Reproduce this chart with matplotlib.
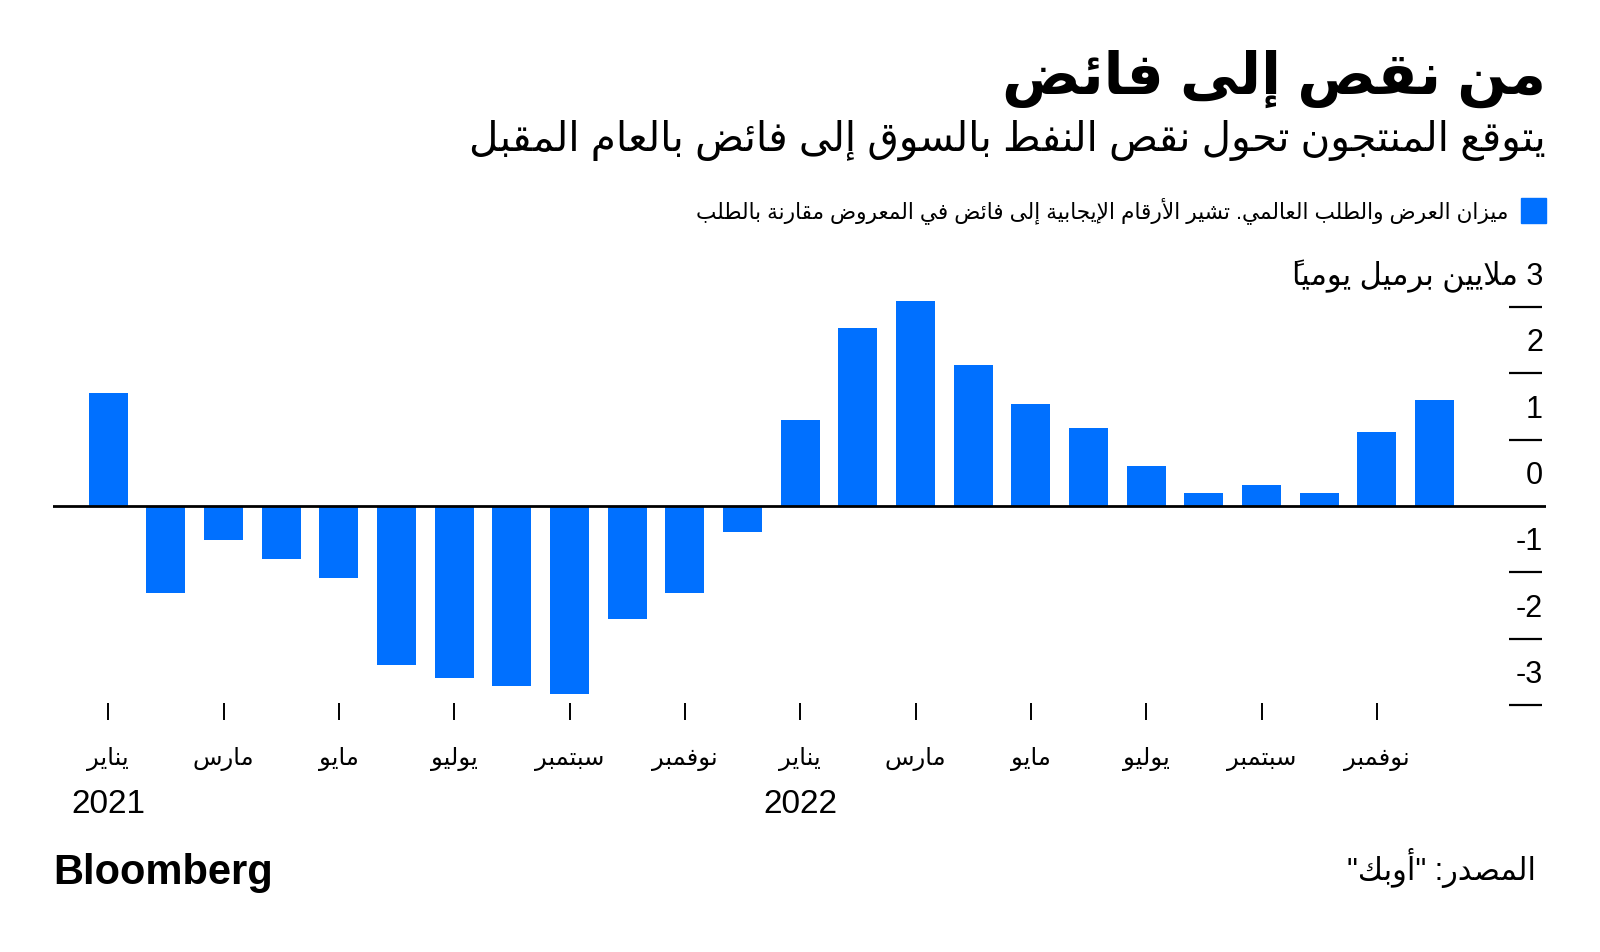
import matplotlib
matplotlib.use('Agg')
import matplotlib.pyplot as plt
import numpy as np

# ---------------- data ----------------
balance = [1.71, -1.31, -0.51, -0.80, -1.09, -2.40, -2.60, -2.71, -2.83, -1.71, -1.31, -0.39,
           1.30, 2.68, 3.09, 2.12, 1.54, 1.18, 0.60, 0.20, 0.31, 0.20, 1.12, 1.60]
tick_months = ['يناير', 'مارس', 'مايو', 'يوليو', 'سبتمبر', 'نوفمبر',
               'يناير', 'مارس', 'مايو', 'يوليو', 'سبتمبر', 'نوفمبر']
years = ['2021', '2022']
y_ticks = [3, 2, 1, 0, -1, -2, -3]
y_tick_labels = ['3', '2', '1', '0', '-1', '-2', '-3']
unit_label = 'ملايين برميل يومياً'

title = 'من نقص إلى فائض'
subtitle = 'يتوقع المنتجون تحول نقص النفط بالسوق إلى فائض بالعام المقبل'
legend_text = 'ميزان العرض والطلب العالمي. تشير الأرقام الإيجابية إلى فائض في المعروض مقارنة بالطلب'
source = 'المصدر: "أوبك"'
brand = 'Bloomberg'

BLUE = '#0070ff'

# ---------------- minimal Arabic shaping ----------------
DUAL = {'ئ': 0xFE89, 'ب': 0xFE8F, 'ت': 0xFE95, 'ث': 0xFE99, 'ج': 0xFE9D, 'ح': 0xFEA1,
        'خ': 0xFEA5, 'س': 0xFEB1, 'ش': 0xFEB5, 'ص': 0xFEB9, 'ض': 0xFEBD, 'ط': 0xFEC1,
        'ظ': 0xFEC5, 'ع': 0xFEC9, 'غ': 0xFECD, 'ف': 0xFED1, 'ق': 0xFED5, 'ك': 0xFED9,
        'ل': 0xFEDD, 'م': 0xFEE1, 'ن': 0xFEE5, 'ه': 0xFEE9, 'ي': 0xFEF1}
RIGHT = {'آ': 0xFE81, 'أ': 0xFE83, 'ؤ': 0xFE85, 'إ': 0xFE87, 'ا': 0xFE8D, 'ة': 0xFE93,
         'د': 0xFEA9, 'ذ': 0xFEAB, 'ر': 0xFEAD, 'ز': 0xFEAF, 'و': 0xFEED, 'ى': 0xFEEF}
NONJ = {'ء': 0xFE80}
LAMALEF = {'آ': 0xFEF5, 'أ': 0xFEF7, 'إ': 0xFEF9, 'ا': 0xFEFB}
MARKS = set(chr(c) for c in range(0x064B, 0x0653))


def _shape(text):
    units = []
    i, n = 0, len(text)
    while i < n:
        ch = text[i]
        if ch in MARKS:
            if units:
                units[-1][2] += ch
            else:
                units.append(['X', ch, ''])
            i += 1
            continue
        if ch == 'ل':
            j = i + 1
            mk = ''
            while j < n and text[j] in MARKS:
                mk += text[j]
                j += 1
            if j < n and text[j] in LAMALEF:
                units.append(['L', LAMALEF[text[j]], mk])
                i = j + 1
                continue
        if ch in DUAL:
            units.append(['D', DUAL[ch], ''])
        elif ch in RIGHT:
            units.append(['R', RIGHT[ch], ''])
        elif ch in NONJ:
            units.append(['U', NONJ[ch], ''])
        else:
            units.append(['X', ch, ''])
        i += 1
    out = []
    for k, (kind, code, mk) in enumerate(units):
        if kind == 'X':
            out.append((kind, mk + code))
            continue
        if kind == 'U':
            out.append((kind, mk + chr(code)))
            continue
        prev = units[k - 1][0] if k > 0 else None
        nxt = units[k + 1][0] if k + 1 < len(units) else None
        jp = prev == 'D'
        jn = kind == 'D' and nxt in ('D', 'R', 'L')
        if kind in ('R', 'L'):
            off = 1 if jp else 0
        else:
            off = 3 if (jp and jn) else 1 if jp else 2 if jn else 0
        # marks are drawn over the glyph that follows them in visual order
        out.append((kind, mk + chr(code + off)))
    return out


def ar(text):
    glyphs = _shape(text)
    runs = []
    for kind, g in glyphs:
        ltr = kind == 'X' and g[0].isascii() and g[0].isalnum()
        if runs and runs[-1][0] == ltr:
            runs[-1][1].append(g)
        else:
            runs.append([ltr, [g]])
    res = []
    for ltr, gs in reversed(runs):
        res.extend(gs if ltr else reversed(gs))
    return ''.join(res)


# ---------------- figure ----------------
W, H = 1600, 953
FAM = ['Liberation Sans', 'DejaVu Sans']
plt.rcParams['font.family'] = FAM

fig = plt.figure(figsize=(W / 100, H / 100), dpi=100)
fig.patch.set_facecolor('white')


def fx(px):
    return px / W


def fy(py):
    return 1 - py / H


# axes: x from 53 to 1546 px, y-bottom at 704 px, zero at 507 px, 66.3 px / unit
ax_left, ax_right = 53, 1546
ax_bottom_px = 704
ax_top_px = 288
ax = fig.add_axes([fx(ax_left), fy(ax_bottom_px), (ax_right - ax_left) / W,
                   (ax_bottom_px - ax_top_px) / H])
unit = 66.3
zero_px = 507
ax.set_ylim(-(ax_bottom_px - zero_px) / unit, (zero_px - ax_top_px) / unit)
spacing = 57.67
first_px = 108.2
ax.set_xlim(-(first_px - ax_left) / spacing, (ax_right - first_px) / spacing)

x = np.arange(len(balance))
ax.bar(x, balance, width=0.675, color=BLUE, zorder=2)
ax.axhline(0, color='black', lw=2.0, zorder=3)

for s in ax.spines.values():
    s.set_visible(False)
ax.set_yticks([])
ax.set_xticks(x[::2])
ax.set_xticklabels([])
ax.tick_params(axis='x', length=12, width=1.4, color='black', direction='out')

# y tick dashes and labels
ytrans = ax.get_yaxis_transform()
for v, lbl in zip(y_ticks, y_tick_labels):
    if v != 0:
        ax.plot([0.9752, 0.9973], [v, v], color='black', lw=1.6, transform=ytrans,
                clip_on=False, solid_capstyle='butt')
    text = lbl if v != 3 else ar(lbl + ' ' + unit_label)
    ax.annotate(text, xy=(1.0, v), xycoords=ytrans, xytext=(-3, 23),
                textcoords='offset pixels', ha='right', va='baseline',
                fontsize=22, family=FAM, color='black')

# month labels
for xi, m in zip(x[::2], tick_months):
    ax.annotate(ar(m), xy=(xi, 0), xycoords=ax.get_xaxis_transform(),
                xytext=(0, -61), textcoords='offset pixels', ha='center',
                va='baseline', fontsize=17.5, family=FAM)
# year labels
for xi, yr in zip([0, 12], years):
    ax.annotate(yr, xy=(xi, 0), xycoords=ax.get_xaxis_transform(),
                xytext=(0, -109), textcoords='offset pixels', ha='center',
                va='baseline', fontsize=24, family=FAM)

# titles
fig.text(fx(1546), fy(94), ar(title), ha='right', va='baseline', fontsize=42,
         fontweight='bold', family=FAM)
fig.text(fx(1546), fy(151), ar(subtitle), ha='right', va='baseline', fontsize=29.2,
         family=FAM)

# legend
fig.patches.append(plt.Rectangle((fx(1521), fy(223.5)), 25 / W, 24.5 / H,
                                 transform=fig.transFigure, color=BLUE))
fig.text(fx(1508), fy(218), ar(legend_text), ha='right', va='baseline', fontsize=15.6,
         family=FAM)

# footer
fig.text(fx(53), fy(884), brand, ha='left', va='baseline', fontsize=30,
         fontweight='bold', family=FAM)
fig.text(fx(1536), fy(880), ar(source), ha='right', va='baseline', fontsize=22,
         family=FAM)

fig.savefig('out.png', dpi=100, facecolor='white')
